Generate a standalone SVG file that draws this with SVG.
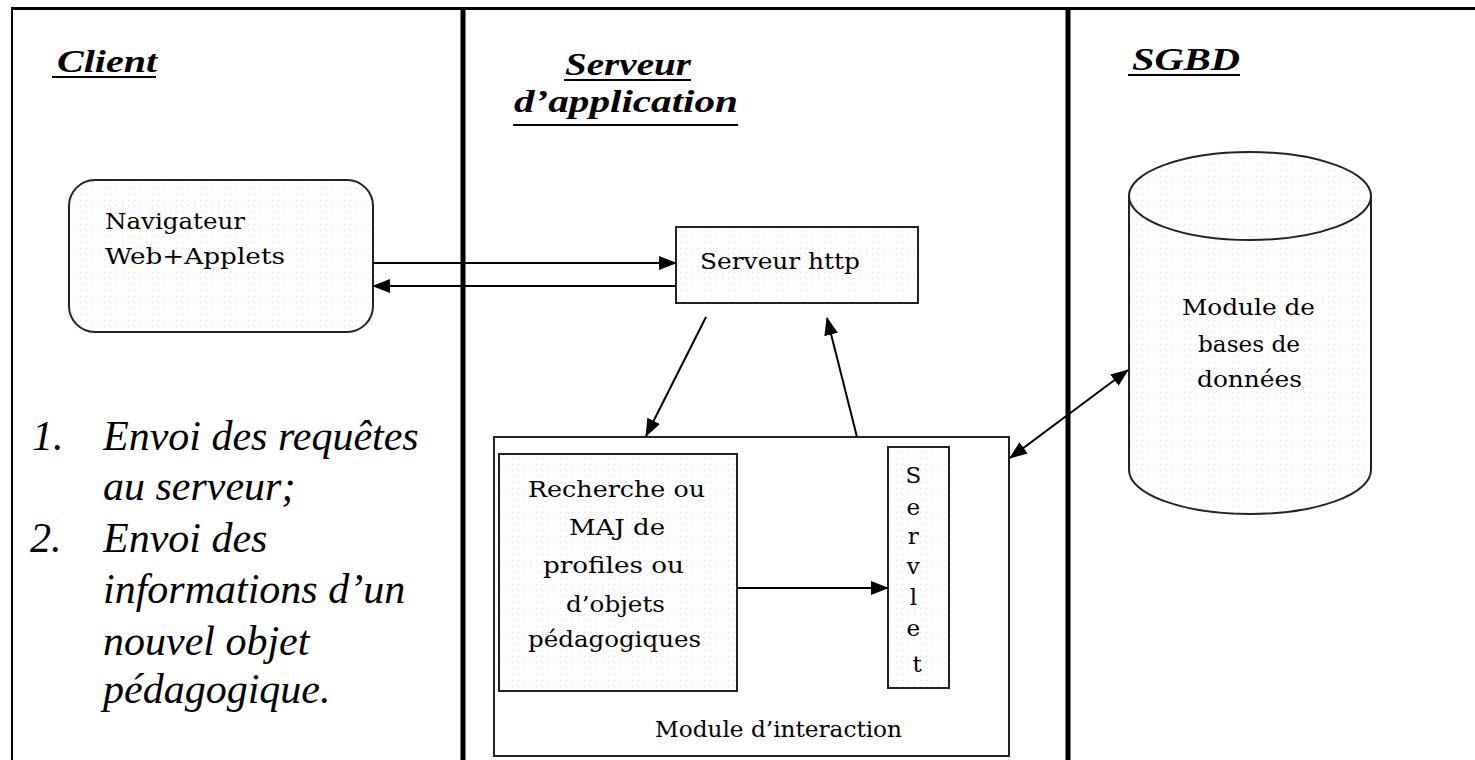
<svg xmlns="http://www.w3.org/2000/svg" width="1475" height="760" viewBox="0 0 1475 760">
<style>
.frame{stroke:#000;fill:none}
.node{stroke:#222;stroke-width:2;fill:url(#dots)}
.plain{stroke:#222;stroke-width:2;fill:#fff}
.lbl{font-family:"DejaVu Serif","Liberation Serif",serif;font-size:23px;fill:#000}
.head{font-family:"Liberation Serif",serif;font-weight:bold;font-style:italic;font-size:32px;fill:#000}
.ul{stroke:#000;stroke-width:2}
.list{font-family:"Liberation Serif",serif;font-style:italic;font-size:42px;fill:#000}
.conn{stroke:#000;stroke-width:2;fill:none}
</style>
<defs>
<pattern id="dots" width="6" height="6" patternUnits="userSpaceOnUse">
<rect width="6" height="6" fill="#fff"/>
<rect x="2" y="2" width="1" height="1" fill="#e2e2e2"/>
</pattern>
<marker id="ah" markerWidth="18" markerHeight="14" refX="17" refY="7" orient="auto" markerUnits="userSpaceOnUse">
<path d="M0,0 L18,7 L0,14 Z" fill="#000"/>
</marker>
<marker id="ahs" markerWidth="18" markerHeight="14" refX="1" refY="7" orient="auto" markerUnits="userSpaceOnUse">
<path d="M18,0 L0,7 L18,14 Z" fill="#000"/>
</marker>
</defs>
<rect width="1475" height="760" fill="#fff"/>

<g id="frame">
<line class="frame" x1="11" y1="8.5" x2="1475" y2="8.5" stroke-width="3"/>
<line class="frame" x1="12" y1="8" x2="12" y2="760" stroke-width="2"/>
<line class="frame" x1="463" y1="8" x2="463" y2="760" stroke-width="5"/>
<line class="frame" x1="1068" y1="8" x2="1068" y2="760" stroke-width="5"/>
</g>

<g id="headings">
<text class="head" x="57" y="72" textLength="100" lengthAdjust="spacingAndGlyphs">Client</text>
<line class="ul" x1="52" y1="77" x2="156" y2="77"/>
<text class="head" x="565" y="75" textLength="126" lengthAdjust="spacingAndGlyphs">Serveur</text>
<line class="ul" x1="564" y1="80" x2="691" y2="80"/>
<text class="head" x="514" y="112" textLength="224" lengthAdjust="spacingAndGlyphs">d’application</text>
<line class="ul" x1="513" y1="125" x2="738" y2="125"/>
<text class="head" x="1132" y="70" textLength="108" lengthAdjust="spacingAndGlyphs">SGBD</text>
<line class="ul" x1="1128" y1="75" x2="1240" y2="75"/>
</g>

<g id="navigateur">
<rect class="node" x="69" y="180" width="304" height="152" rx="26" ry="26"/>
<text class="lbl" x="105" y="229" textLength="140" lengthAdjust="spacingAndGlyphs">Navigateur</text>
<text class="lbl" x="105" y="264" textLength="180" lengthAdjust="spacingAndGlyphs">Web+Applets</text>
</g>

<g id="serveur-http">
<rect class="node" x="676" y="227" width="242" height="76"/>
<text class="lbl" x="700" y="269" textLength="160" lengthAdjust="spacingAndGlyphs">Serveur http</text>
</g>

<g id="module-interaction">
<rect class="plain" x="494" y="437" width="515" height="319"/>
<text class="lbl" x="655" y="737" textLength="247" lengthAdjust="spacingAndGlyphs">Module d’interaction</text>
</g>

<g id="recherche">
<rect class="node" x="499" y="454" width="238" height="237"/>
<text class="lbl" x="528" y="497" textLength="177" lengthAdjust="spacingAndGlyphs">Recherche ou</text>
<text class="lbl" x="569" y="535" textLength="96" lengthAdjust="spacingAndGlyphs">MAJ de</text>
<text class="lbl" x="543" y="573" textLength="141" lengthAdjust="spacingAndGlyphs">profiles ou</text>
<text class="lbl" x="566" y="612" textLength="99" lengthAdjust="spacingAndGlyphs">d’objets</text>
<text class="lbl" x="528" y="647" textLength="173" lengthAdjust="spacingAndGlyphs">pédagogiques</text>
</g>

<g id="servlet">
<rect class="node" x="888" y="447" width="61" height="241"/>
<text class="lbl" text-anchor="middle">
<tspan x="917" y="483">S</tspan>
<tspan x="917" y="515">e</tspan>
<tspan x="917" y="544">r</tspan>
<tspan x="917" y="574">v</tspan>
<tspan x="917" y="605">l</tspan>
<tspan x="917" y="636">e</tspan>
<tspan x="917" y="672">t</tspan>
</text>
</g>

<g id="bdd">
<path class="node" d="M1129,196 L1129,470 A121,44 0 0 0 1371,470 L1371,196"/>
<ellipse class="node" cx="1250" cy="196" rx="121" ry="44"/>
<text class="lbl" x="1182" y="315" textLength="133" lengthAdjust="spacingAndGlyphs">Module de</text>
<text class="lbl" x="1198" y="352" textLength="102" lengthAdjust="spacingAndGlyphs">bases de</text>
<text class="lbl" x="1197" y="387" textLength="105" lengthAdjust="spacingAndGlyphs">données</text>
</g>

<g id="connectors">
<line class="conn" x1="373" y1="263" x2="676" y2="263" marker-end="url(#ah)"/>
<line class="conn" x1="676" y1="286" x2="373" y2="286" marker-end="url(#ah)"/>
<line class="conn" x1="706" y1="317" x2="646" y2="436" marker-end="url(#ah)"/>
<line class="conn" x1="857" y1="437" x2="827" y2="318" marker-end="url(#ah)"/>
<line class="conn" x1="737" y1="588" x2="888" y2="588" marker-end="url(#ah)"/>
<line class="conn" x1="1010" y1="458" x2="1128" y2="370" marker-start="url(#ahs)" marker-end="url(#ah)"/>
</g>

<g id="liste">
<text class="list" x="32" y="450">1.</text>
<text class="list" x="103" y="450">Envoi des requêtes</text>
<text class="list" x="103" y="500">au serveur;</text>
<text class="list" x="30" y="552">2.</text>
<text class="list" x="103" y="552">Envoi des</text>
<text class="list" x="103" y="603">informations d’un</text>
<text class="list" x="103" y="655">nouvel objet</text>
<text class="list" x="103" y="703">pédagogique.</text>
</g>
</svg>
